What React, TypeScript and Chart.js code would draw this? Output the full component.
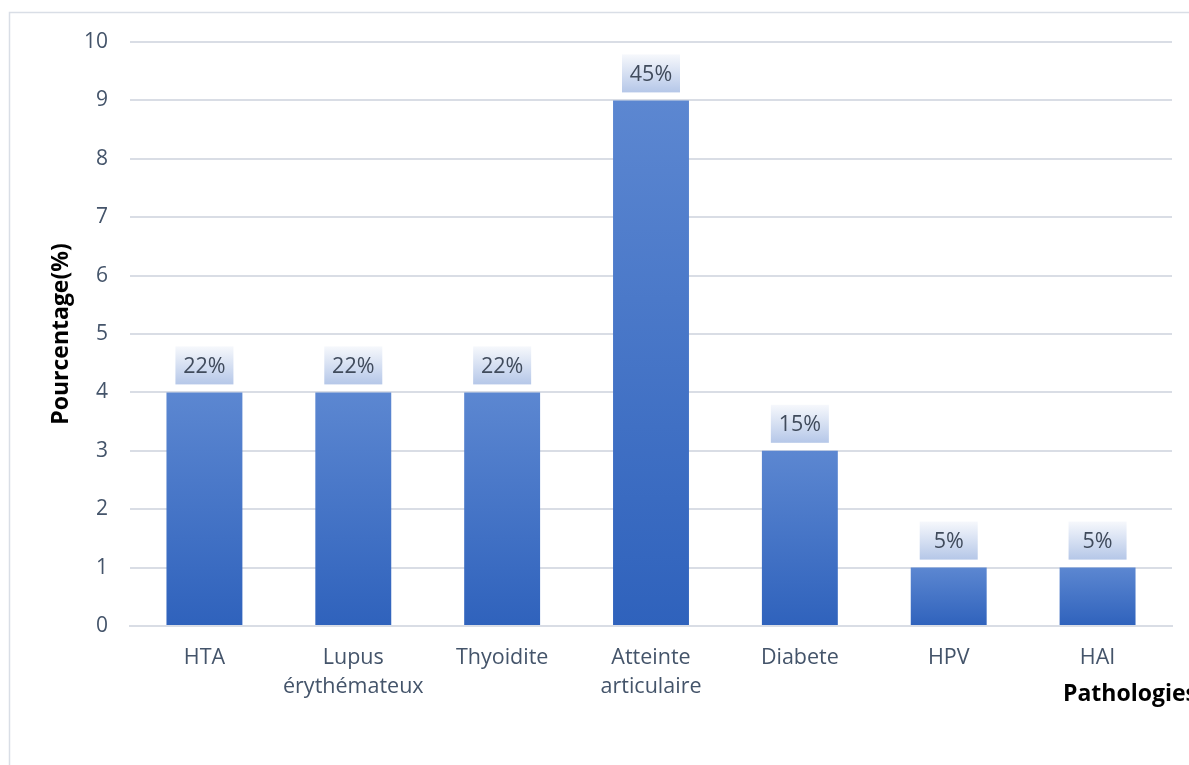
import React, { useEffect, useRef } from "react";
import { Chart, registerables } from "chart.js";

Chart.register(...registerables);

// Pathologies and their counts
const categories: (string | string[])[] = [
  "HTA",
  ["Lupus", "érythémateux"],
  "Thyoidite",
  ["Atteinte", "articulaire"],
  "Diabete",
  "HPV",
  "HAI",
];
const counts = [4, 4, 4, 9, 3, 1, 1];
const percentLabels = ["22%", "22%", "22%", "45%", "15%", "5%", "5%"];
const yTicks = [0, 1, 2, 3, 4, 5, 6, 7, 8, 9, 10];

const FONT = "'Open Sans', sans-serif";
const TEXT = "#44546a";
const GRID = "#d9dde5";

// Per-bar vertical gradient, lighter at the top
function barFill(ctx: any) {
  const chart = ctx.chart;
  const y = chart.scales?.y;
  if (!chart.chartArea || !y || ctx.raw == null) return "#4472c4";
  const top = y.getPixelForValue(ctx.raw);
  const base = y.getPixelForValue(0);
  const g = chart.ctx.createLinearGradient(0, top, 0, base);
  g.addColorStop(0, "#5c87d1");
  g.addColorStop(1, "#2f62bc");
  return g;
}

// Frame, axis titles and the percentage boxes above each bar
const decorations = {
  id: "decorations",
  beforeDraw(chart: any) {
    const c = chart.ctx;
    c.save();
    c.strokeStyle = "#d9dee6";
    c.lineWidth = 1.5;
    c.strokeRect(9.5, 12.5, chart.width + 20, chart.height + 20);
    c.restore();
  },
  afterDatasetsDraw(chart: any) {
    const c = chart.ctx;
    const meta = chart.getDatasetMeta(0);
    c.save();
    meta.data.forEach((bar: any, i: number) => {
      const w = 58;
      const h = 38;
      const x0 = bar.x - w / 2;
      const y1 = bar.y - 8;
      const y0 = y1 - h;
      const g = c.createLinearGradient(0, y0, 0, y1);
      g.addColorStop(0, "#f6f8fc");
      g.addColorStop(1, "#b5c7e8");
      c.fillStyle = g;
      c.fillRect(x0, y0, w, h);
      c.fillStyle = "#404b5c";
      c.font = `21.5px ${FONT}`;
      c.textAlign = "center";
      c.textBaseline = "middle";
      c.fillText(percentLabels[i], bar.x, y0 + h / 2 + 1.5);
    });

    c.fillStyle = "#000";
    c.font = `bold 23px ${FONT}`;
    c.textBaseline = "alphabetic";
    c.textAlign = "left";
    c.fillText("Pathologies", 1063, 701);

    c.translate(68, 334);
    c.rotate(-Math.PI / 2);
    c.textAlign = "center";
    c.fillText("Pourcentage(%)", 0, 0);
    c.restore();
  },
};

export default function App() {
  const ref = useRef<HTMLCanvasElement | null>(null);

  useEffect(() => {
    if (!ref.current) return;
    const chart = new Chart(ref.current, {
      type: "bar",
      data: {
        labels: categories,
        datasets: [
          {
            data: counts,
            backgroundColor: barFill,
            categoryPercentage: 1,
            barPercentage: 0.51,
          },
        ],
      },
      options: {
        animation: false,
        responsive: false,
        maintainAspectRatio: false,
        layout: { padding: { top: 42, right: 17, bottom: 0, left: 0 } },
        plugins: {
          legend: { display: false },
          tooltip: { enabled: false },
        },
        scales: {
          x: {
            grid: { display: false, drawTicks: false },
            border: { display: true, color: GRID, width: 2 },
            ticks: {
              color: TEXT,
              padding: 17,
              maxRotation: 0,
              autoSkip: false,
              font: { family: FONT, size: 21.5, lineHeight: 1.35 },
            },
            afterFit: (s: any) => {
              s.height = 139;
            },
          },
          y: {
            min: 0,
            max: 10,
            afterBuildTicks: (s: any) => {
              s.ticks = yTicks.map((v) => ({ value: v }));
            },
            grid: { color: GRID, lineWidth: 2, drawTicks: false },
            border: { display: false },
            ticks: {
              color: TEXT,
              padding: 22,
              font: { family: FONT, size: 21 },
            },
            afterFit: (s: any) => {
              s.width = 130;
            },
          },
        },
      },
      plugins: [decorations],
    });
    return () => chart.destroy();
  }, []);

  return (
    <div style={{ position: "fixed", left: 0, top: 0, width: 1189, height: 765, background: "#fff" }}>
      <canvas ref={ref} width={1189} height={765} style={{ width: 1189, height: 765, display: "block" }} />
    </div>
  );
}
